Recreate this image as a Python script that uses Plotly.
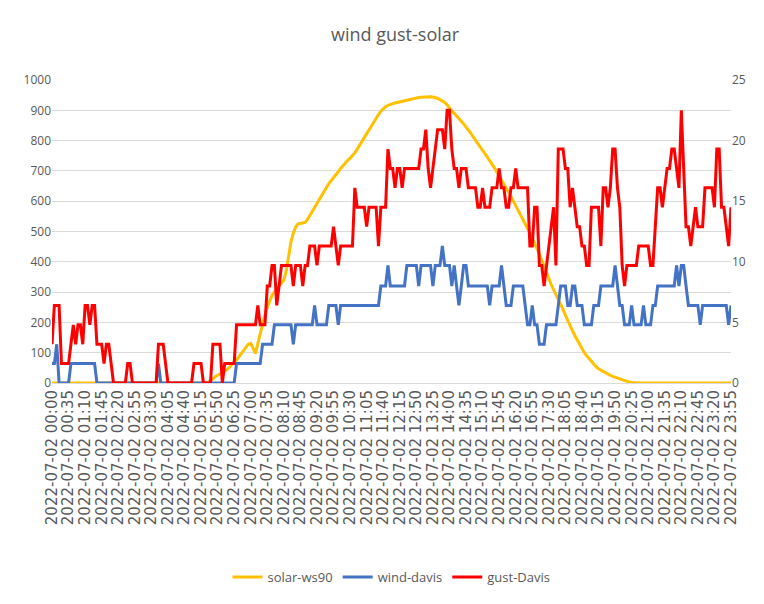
import plotly.graph_objects as go

# Categories: 5-minute timestamps across 2022-07-02
times = [f"2022-07-02 {h:02d}:{m:02d}" for h in range(24) for m in range(0, 60, 5)]

# solar-ws90 (left axis, W/m2)
solar = [
    0, 0, 0, 0, 0, 0, 0, 0, 0, 0, 0, 0, 0, 0, 0, 0, 0, 0, 0, 0, 0, 0, 0, 0,
    0, 0, 0, 0, 0, 0, 0, 0, 0, 0, 0, 0, 0, 0, 0, 0, 0, 0, 0, 0, 0, 0, 0, 0,
    0, 0, 0, 0, 0, 0, 0, 0, 0, 0, 0, 0, 0, 0, 0, 0, 0, 0, 3, 8, 14, 21, 26, 31,
    36, 40, 44, 52, 62, 70, 76, 86, 98, 110, 120, 128, 131, 115, 98, 130, 164, 195, 225, 250, 270, 290, 300, 310,
    318, 330, 340, 370, 420, 465, 495, 515, 525, 527, 528, 530, 540, 552, 565, 578, 592, 606, 620, 634, 647, 658, 668, 677,
    686, 697, 708, 718, 727, 735, 742, 750, 760, 772, 785, 797, 810, 824, 837, 850, 862, 874, 886, 897, 905, 912, 916, 920,
    922, 924, 926, 928, 929, 931, 932, 934, 936, 938, 940, 942, 943, 944, 944, 945, 945, 944, 942, 939, 935, 931, 926, 918,
    907, 898, 890, 882, 873, 864, 855, 845, 836, 825, 812, 800, 788, 778, 768, 757, 746, 736, 723, 710, 696, 683, 670, 656,
    643, 630, 616, 600, 585, 572, 560, 545, 530, 515, 495, 478, 462, 445, 426, 405, 384, 362, 345, 325, 308, 293, 278, 262,
    243, 224, 205, 188, 172, 157, 142, 126, 112, 100, 90, 80, 70, 61, 54, 47, 42, 38, 33, 29, 25, 22, 19, 16,
    13, 10, 7, 5, 3, 2, 1, 0, 0, 0, 0, 0, 0, 0, 0, 0, 0, 0, 0, 0, 0, 0, 0, 0,
    0, 0, 0, 0, 0, 0, 0, 0, 0, 0, 0, 0, 0, 0, 0, 0, 0, 0, 0, 0, 0, 0, 0, 0,
]

# wind-davis (right axis, km/h)
wind = [
    1.6, 1.6, 3.2, 0, 0, 0, 0, 0, 1.6, 1.6, 1.6, 1.6, 1.6, 1.6, 1.6, 1.6, 1.6, 1.6, 1.6, 0, 0, 0, 0, 0,
    0, 0, 0, 0, 0, 0, 0, 0, 0, 0, 0, 0, 0, 0, 0, 0, 0, 0, 0, 0, 0, 1.6, 0, 0,
    0, 0, 0, 0, 0, 0, 0, 0, 0, 0, 0, 0, 0, 0, 0, 0, 0, 0, 0, 0, 0, 0, 0, 0,
    0, 0, 0, 0, 0, 0, 1.6, 1.6, 1.6, 1.6, 1.6, 1.6, 1.6, 1.6, 1.6, 1.6, 1.6, 3.2, 3.2, 3.2, 3.2, 3.2, 4.8, 4.8,
    4.8, 4.8, 4.8, 4.8, 4.8, 4.8, 3.2, 4.8, 4.8, 4.8, 4.8, 4.8, 4.8, 4.8, 4.8, 6.4, 4.8, 4.8, 4.8, 4.8, 4.8, 6.4, 6.4, 6.4,
    6.4, 4.8, 6.4, 6.4, 6.4, 6.4, 6.4, 6.4, 6.4, 6.4, 6.4, 6.4, 6.4, 6.4, 6.4, 6.4, 6.4, 6.4, 6.4, 8.0, 8.0, 8.0, 9.7, 8.0,
    8.0, 8.0, 8.0, 8.0, 8.0, 8.0, 9.7, 9.7, 9.7, 9.7, 9.7, 8.0, 9.7, 9.7, 9.7, 9.7, 9.7, 8.0, 9.7, 9.7, 9.7, 11.3, 9.7, 9.7,
    9.7, 8.0, 9.7, 8.0, 6.4, 8.0, 9.7, 9.7, 8.0, 8.0, 8.0, 8.0, 8.0, 8.0, 8.0, 8.0, 8.0, 6.4, 8.0, 8.0, 8.0, 8.0, 9.7, 8.0,
    6.4, 6.4, 6.4, 8.0, 8.0, 8.0, 8.0, 8.0, 6.4, 4.8, 4.8, 6.4, 4.8, 4.8, 3.2, 3.2, 3.2, 4.8, 4.8, 4.8, 4.8, 4.8, 6.4, 8.0,
    8.0, 8.0, 6.4, 6.4, 8.0, 8.0, 6.4, 6.4, 6.4, 4.8, 4.8, 4.8, 4.8, 6.4, 6.4, 6.4, 8.0, 8.0, 8.0, 8.0, 8.0, 8.0, 9.7, 8.0,
    6.4, 6.4, 4.8, 4.8, 4.8, 6.4, 4.8, 4.8, 4.8, 4.8, 6.4, 4.8, 4.8, 4.8, 6.4, 6.4, 8.0, 8.0, 8.0, 8.0, 8.0, 8.0, 8.0, 8.0,
    9.7, 8.0, 9.7, 9.7, 8.0, 6.4, 6.4, 6.4, 6.4, 6.4, 4.8, 6.4, 6.4, 6.4, 6.4, 6.4, 6.4, 6.4, 6.4, 6.4, 6.4, 6.4, 4.8, 6.4,
]

# gust-Davis (right axis, km/h)
gust = [
    3.2, 6.4, 6.4, 6.4, 1.6, 1.6, 1.6, 1.6, 3.2, 4.8, 3.2, 4.8, 4.8, 3.2, 6.4, 6.4, 4.8, 6.4, 6.4, 3.2, 3.2, 3.2, 1.6, 3.2,
    3.2, 1.6, 0, 0, 0, 0, 0, 0, 1.6, 1.6, 0, 0, 0, 0, 0, 0, 0, 0, 0, 0, 0, 3.2, 3.2, 3.2,
    1.6, 0, 0, 0, 0, 0, 0, 0, 0, 0, 0, 0, 1.6, 1.6, 1.6, 1.6, 0, 0, 0, 0, 3.2, 3.2, 3.2, 3.2,
    0, 1.6, 1.6, 1.6, 1.6, 1.6, 4.8, 4.8, 4.8, 4.8, 4.8, 4.8, 4.8, 4.8, 4.8, 6.4, 4.8, 4.8, 4.8, 8.0, 8.0, 9.7, 9.7, 6.4,
    8.0, 9.7, 9.7, 9.7, 9.7, 9.7, 8.0, 9.7, 9.7, 9.7, 8.0, 9.7, 9.7, 11.3, 11.3, 11.3, 9.7, 11.3, 11.3, 11.3, 11.3, 11.3, 11.3, 12.9,
    11.3, 9.7, 11.3, 11.3, 11.3, 11.3, 11.3, 11.3, 16.1, 14.5, 14.5, 14.5, 14.5, 12.9, 14.5, 14.5, 14.5, 14.5, 11.3, 14.5, 14.5, 14.5, 19.3, 17.7,
    17.7, 16.1, 17.7, 17.7, 16.1, 17.7, 17.7, 17.7, 17.7, 17.7, 17.7, 17.7, 19.3, 19.3, 20.9, 17.7, 16.1, 17.7, 19.3, 20.9, 20.9, 20.9, 19.3, 22.5,
    22.5, 19.3, 17.7, 17.7, 16.1, 17.7, 17.7, 17.7, 16.1, 16.1, 16.1, 16.1, 14.5, 14.5, 16.1, 14.5, 14.5, 14.5, 16.1, 16.1, 16.1, 17.7, 16.1, 16.1,
    14.5, 14.5, 16.1, 16.1, 17.7, 16.1, 16.1, 16.1, 16.1, 16.1, 11.3, 11.3, 14.5, 14.5, 9.7, 9.7, 8.0, 9.7, 11.3, 12.9, 14.5, 9.7, 19.3, 19.3,
    19.3, 17.7, 17.7, 14.5, 16.1, 14.5, 12.9, 12.9, 11.3, 11.3, 9.7, 9.7, 14.5, 14.5, 14.5, 14.5, 11.3, 16.1, 16.1, 14.5, 16.1, 19.3, 19.3, 16.1,
    14.5, 9.7, 8.0, 9.7, 9.7, 9.7, 9.7, 9.7, 11.3, 11.3, 11.3, 11.3, 11.3, 9.7, 9.7, 12.9, 16.1, 16.1, 14.5, 16.1, 17.7, 17.7, 19.3, 19.3,
    17.7, 16.1, 22.5, 17.7, 12.9, 12.9, 11.3, 12.9, 14.5, 12.9, 12.9, 12.9, 16.1, 16.1, 16.1, 16.1, 14.5, 19.3, 19.3, 14.5, 14.5, 12.9, 11.3, 14.5,
]

x_ticks = times[::7]
left_ticks = list(range(0, 1001, 100))
right_ticks = [0, 5, 10, 15, 20, 25]

GREY = "#595959"

fig = go.Figure()
fig.add_trace(go.Scatter(x=times, y=solar, mode="lines", name="solar-ws90",
                         line=dict(color="#FFC000", width=3), yaxis="y"))
fig.add_trace(go.Scatter(x=times, y=wind, mode="lines", name="wind-davis",
                         line=dict(color="#4472C4", width=3), yaxis="y2"))
fig.add_trace(go.Scatter(x=times, y=gust, mode="lines", name="gust-Davis",
                         line=dict(color="#FF0000", width=3), yaxis="y2"))

fig.update_layout(
    width=756, height=596,
    margin=dict(l=44, r=33, t=72, b=221),
    paper_bgcolor="white", plot_bgcolor="white",
    title=dict(text="wind gust-solar", x=0.512, xanchor="center",
               y=0.955, yanchor="middle",
               font=dict(family="Open Sans", size=18, color=GREY)),
    xaxis=dict(type="category", range=[0, len(times) - 1],
               tickmode="array", tickvals=x_ticks, ticktext=x_ticks,
               tickangle=-90, showgrid=False, zeroline=False,
               showline=True, linecolor="#d9d9d9", linewidth=1,
               tickfont=dict(family="DejaVu Sans", size=15, color=GREY)),
    yaxis=dict(range=[0, 1000], tickmode="array", tickvals=left_ticks,
               showgrid=True, gridcolor="#d9d9d9", gridwidth=1,
               zeroline=False, showline=False,
               tickfont=dict(family="Open Sans", size=12, color=GREY)),
    yaxis2=dict(range=[0, 25], tickmode="array", tickvals=right_ticks,
                overlaying="y", side="right", showgrid=False,
                zeroline=False, showline=False,
                tickfont=dict(family="Open Sans", size=12, color=GREY)),
    legend=dict(orientation="h", x=0.5, xanchor="center",
                yref="container", y=0.0453, yanchor="middle",
                font=dict(family="Open Sans", size=13, color=GREY),
                itemwidth=30),
    showlegend=True,
)

fig.write_html("out.html")
